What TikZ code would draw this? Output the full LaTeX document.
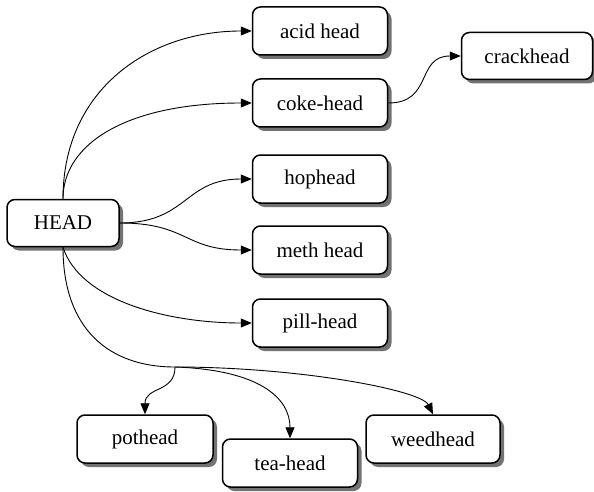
\documentclass[tikz,border=0pt]{standalone}
\usepackage{fontspec}
\setmainfont{Liberation Serif}
\usetikzlibrary{arrows.meta,shadows}
\tikzset{
  box/.style={draw=black, line width=1.5pt, rounded corners=8pt, fill=white,
    minimum width=135pt, minimum height=48pt, inner sep=0pt,
    font=\fontsize{21}{25}\selectfont,
    drop shadow={shadow xshift=4pt, shadow yshift=-4pt, fill=black!55, opacity=1}},
  edge/.style={draw=black, line width=0.9pt, -{Triangle[length=11pt,width=9pt]}},
  plain/.style={draw=black, line width=0.9pt}
}
\begin{document}
\begin{tikzpicture}[x=1pt,y=-1pt]
\useasboundingbox (0,0) rectangle (594,492);
\node[box, minimum width=112pt, minimum height=47pt] (head) at (63,223) {HEAD};
\node[box] (acid) at (320,31) {acid head};
\node[box] (coke) at (320,103) {coke-head};
\node[box, minimum width=131pt, minimum height=47pt] (crack) at (527,56) {crackhead};
\node[box] (hop) at (320,179) {hophead};
\node[box] (meth) at (320,250) {meth head};
\node[box] (pill) at (320,323) {pill-head};
\node[box, minimum width=136pt] (pot) at (145,439) {pothead};
\node[box] (tea) at (290,463) {tea-head};
\node[box, minimum width=134pt] (weed) at (433,439) {weedhead};
\coordinate (split) at (175,367);

\draw[edge] (head.north) .. controls +(0,-109) and +(-103,0) .. (acid.west);
\draw[edge] (head.north) .. controls +(0,-55) and +(-125,0) .. (coke.west);
\draw[edge] (coke.east) .. controls +(45,0) and +(-45,0) .. (crack.west);
\draw[edge] (head.east) .. controls +(68,0) and +(-68,0) .. (hop.west);
\draw[edge] (head.east) .. controls +(68,0) and +(-68,0) .. (meth.west);
\draw[edge] (head.south) .. controls +(17,53) and +(-85,0) .. (pill.west);
\draw[plain] (head.south) .. controls +(0,83) and +(-65,0) .. (split);
\draw[edge] (split) .. controls +(0,26) and +(0,-28) .. (pot.north);
\draw[edge] (split) .. controls +(85,3) and +(0,-40) .. (tea.north);
\draw[edge] (split) .. controls +(125,0) and +(-12,-24) .. (weed.north);
\end{tikzpicture}
\end{document}
